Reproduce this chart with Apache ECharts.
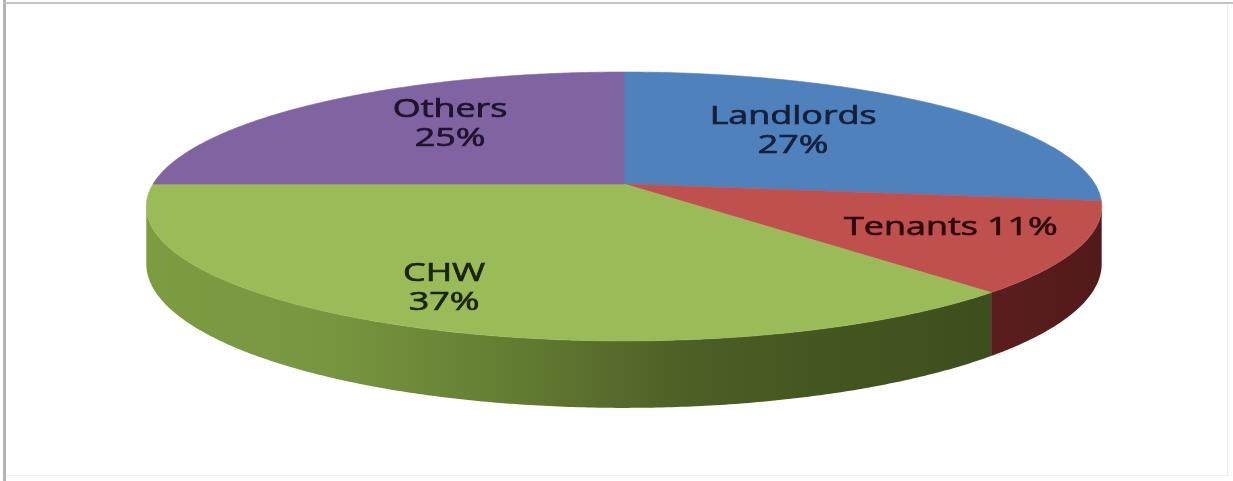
<!DOCTYPE html>
<html>
<head>
<meta charset="utf-8">
<script src="https://cdn.jsdelivr.net/npm/echarts@6/dist/echarts.min.js"></script>
<style>
html,body{margin:0;padding:0;background:#ffffff;}
#chart{width:1233px;height:481px;}
</style>
</head>
<body>
<div id="chart"></div>
<script>
// ---- data ----
const categories = ['Landlords', 'Tenants', 'CHW', 'Others'];
const shares = [27, 11, 37, 25];
const labelTexts = ['Landlords\n27%', 'Tenants 11%', 'CHW\n37%', 'Others\n25%'];

// ---- styling / layout (not data) ----
const topColors = ['#4F81BD', '#C0504D', '#9BBB59', '#8064A2'];
const textColors = ['#14203a', '#2a0a0a', '#19230e', '#1f132c'];
// label placement inside each slice: [angle offset from slice middle (deg), radius fraction]
const labelPlace = [[-7, 0.58], [-1.2, 0.73], [2.2, 0.78], [6.3, 0.64]];

const P = { cx: 624, cy: 184, R: 471, S: 130.7, k: 0.167, D: 55.8 };
const total = shares.reduce((a, b) => a + b, 0);
const starts = [];
shares.reduce((acc, v, i) => { starts[i] = acc; return acc + v; }, 0);

function proj(deg, r, drop) {
  const t = deg * Math.PI / 180;
  const u = r * Math.sin(t), v = r * Math.cos(t);
  const s = 1 / (1 + P.k * v);
  return [P.cx + P.R * u * s, P.cy - P.S * v * s + (drop || 0) * P.D * s];
}
const thL = Math.acos(-P.k) * 180 / Math.PI;   // right silhouette
const thR = 360 - thL;                          // left silhouette

function sideFill(i) {
  if (i === 2) {
    return new echarts.graphic.LinearGradient(146, 0, 1000, 0, [
      { offset: 0, color: '#7d9c40' },
      { offset: 0.215, color: '#789640' },
      { offset: 0.32, color: '#6e8938' },
      { offset: 0.44, color: '#627b32' },
      { offset: 0.555, color: '#566a2b' },
      { offset: 0.65, color: '#4b5e25' },
      { offset: 0.825, color: '#43551f' },
      { offset: 1, color: '#3d4e1d' }
    ], true);
  }
  if (i === 1) {
    return new echarts.graphic.LinearGradient(975, 0, 1105, 0, [
      { offset: 0, color: '#5c1e1e' },
      { offset: 1, color: '#521a1a' }
    ], true);
  }
  return i === 0 ? '#2e4d72' : '#4d3c62';
}

const seriesData = categories.map((c, i) => ({ name: c, value: [starts[i], shares[i], i] }));

function arcPoints(a0, a1, r, drop, pts) {
  const n = Math.max(2, Math.ceil((a1 - a0) / 0.5));
  for (let j = 0; j <= n; j++) pts.push(proj(a0 + (a1 - a0) * j / n, r, drop));
  return pts;
}

function renderSide(params, api) {
  const i = api.value(2);
  const a0 = api.value(0) / total * 360;
  const a1 = (api.value(0) + api.value(1)) / total * 360;
  const s0 = Math.max(a0, thL), s1 = Math.min(a1, thR);
  if (s1 <= s0) return null;
  const pts = arcPoints(s0, s1, 1, 0, []);
  const bot = arcPoints(s0, s1, 1, 1, []).reverse();
  return {
    type: 'polygon',
    shape: { points: pts.concat(bot) },
    style: { fill: sideFill(i), stroke: null }
  };
}

function renderTop(params, api) {
  const i = api.value(2);
  const a0 = api.value(0) / total * 360;
  const a1 = (api.value(0) + api.value(1)) / total * 360;
  const pts = [proj(0, 0, 0)];
  arcPoints(a0, a1, 1, 0, pts);
  const mid = (a0 + a1) / 2 + labelPlace[i][0];
  const lp = proj(mid, labelPlace[i][1], 0);
  return {
    type: 'group',
    children: [
      {
        type: 'polygon',
        shape: { points: pts },
        style: { fill: topColors[i], stroke: topColors[i], lineWidth: 0.6 },
        z2: 1
      },
      {
        type: 'text',
        x: lp[0], y: lp[1],
        scaleX: 1.38,
        z2: 10,
        style: {
          text: labelTexts[i],
          fill: textColors[i],
          stroke: textColors[i],
          lineWidth: 0.7,
          font: '26px "Open Sans", sans-serif',
          lineHeight: 29,
          align: 'center',
          verticalAlign: 'middle'
        }
      }
    ]
  };
}

const chart = echarts.init(document.getElementById('chart'), null, { renderer: 'canvas' });
chart.setOption({
  backgroundColor: '#ffffff',
  animation: false,
  graphic: [
    { type: 'rect', shape: { x: 3, y: 0, width: 3, height: 481 }, style: { fill: '#b3b3b3' }, silent: true },
    { type: 'rect', shape: { x: 3, y: 2, width: 1230, height: 2 }, style: { fill: '#c4c4c4' }, silent: true },
    { type: 'rect', shape: { x: 1227, y: 4, width: 1, height: 472 }, style: { fill: '#eeeeee' }, silent: true },
    { type: 'rect', shape: { x: 6, y: 475, width: 1222, height: 1 }, style: { fill: '#f0f0f0' }, silent: true }
  ],
  series: [
    {
      type: 'custom',
      name: 'side',
      coordinateSystem: 'none',
      renderItem: renderSide,
      data: seriesData,
      z: 1,
      silent: true
    },
    {
      type: 'custom',
      name: 'top',
      coordinateSystem: 'none',
      renderItem: renderTop,
      data: seriesData,
      z: 2
    }
  ]
});
</script>
</body>
</html>
